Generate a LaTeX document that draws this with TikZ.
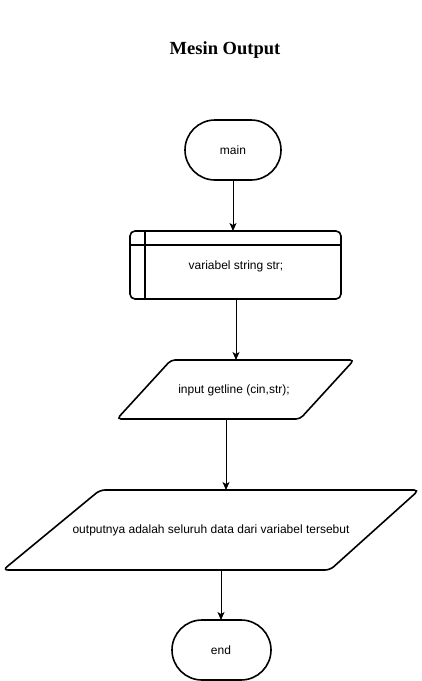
\documentclass[tikz,border=0pt]{standalone}
\usepackage{fontspec}
\setmainfont{Liberation Sans}
\newfontfamily\titlefont{Liberation Serif}
\usetikzlibrary{arrows.meta}
\begin{document}
\begin{tikzpicture}[x=1pt,y=-1pt,
  shapeline/.style={draw=black,line width=1.6pt,fill=white},
  lbl/.style={font=\fontsize{12}{14}\selectfont,inner sep=0pt},
  conn/.style={draw=black,line width=0.9pt,-{Stealth[length=8pt,width=7pt,inset=2pt]}}]
\useasboundingbox (0,0) rectangle (422,681);
% title
\node[font=\titlefont\bfseries\fontsize{18.5}{20}\selectfont,inner sep=0pt] (title) at (225,50) {Mesin Output};
% main terminator
\draw[shapeline,rounded corners=30pt] (185,120) rectangle (281,180);
\node[lbl] (main) at (233,150) {main};
% variable box
\draw[shapeline,rounded corners=5pt] (130,231) rectangle (341,299);
\draw[line width=1.6pt] (145,231) -- (145,299);
\draw[line width=1.6pt] (130,245) -- (341,245);
\node[lbl] (var) at (236,266) {variabel string str;};
% input parallelogram
\draw[shapeline,rounded corners=4pt] (171,360) -- (354,360) -- (300,419) -- (117,419) -- cycle;
\node[lbl] (inp) at (234,390) {input getline (cin,str);};
% output parallelogram
\draw[shapeline,rounded corners=5pt] (100,490) -- (419,490) -- (330,570) -- (3,570) -- cycle;
\node[lbl] (out) at (211,530) {outputnya adalah seluruh data dari variabel tersebut};
% end terminator
\draw[shapeline,rounded corners=30pt] (172,620) rectangle (271,680);
\node[lbl] (endn) at (221,650) {end};
% connector endpoints
\coordinate (a1) at (233,180);
\coordinate (a2) at (233,231);
\coordinate (b1) at (236,299);
\coordinate (b2) at (236,360);
\coordinate (c1) at (226,419);
\coordinate (c2) at (226,490);
\coordinate (d1) at (221,570);
\coordinate (d2) at (221,620);
\draw[conn] (a1) -- (a2);
\draw[conn] (b1) -- (b2);
\draw[conn] (c1) -- (c2);
\draw[conn] (d1) -- (d2);
\end{tikzpicture}
\end{document}
